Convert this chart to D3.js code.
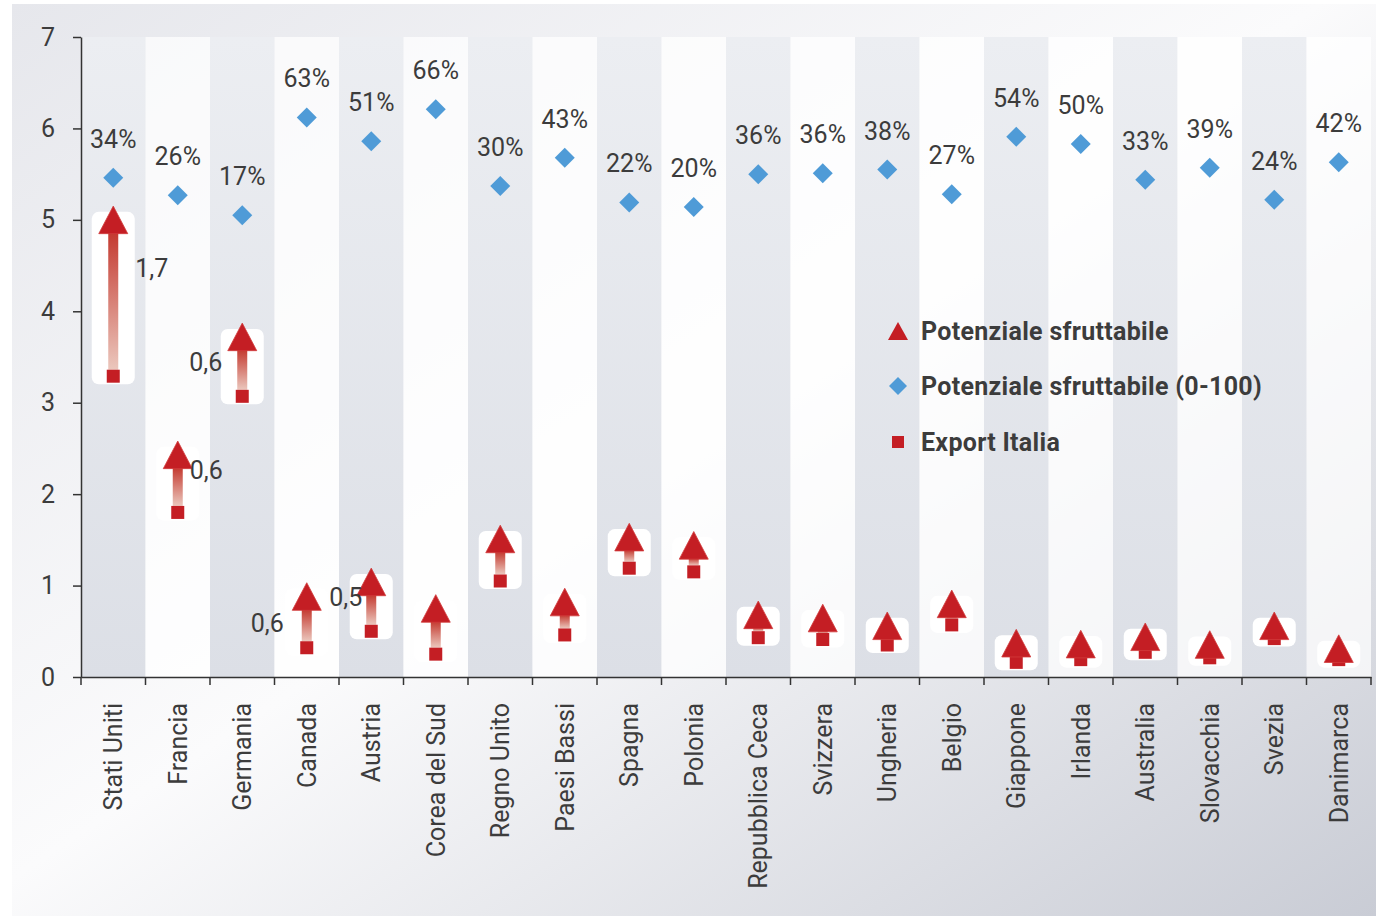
<!DOCTYPE html>
<html>
<head>
<meta charset="utf-8">
<script src="https://cdn.jsdelivr.net/npm/d3@7"></script>
<style>
  body { margin: 0; background: #ffffff; }
  svg { display: block; }
  text { font-family: Roboto, "Noto Sans", "Liberation Sans", sans-serif; }
</style>
</head>
<body>
<svg id="chart" width="1376" height="916"></svg>
<script>
// ---------------- DATA ----------------
const countries = ["Stati Uniti", "Francia", "Germania", "Canada", "Austria", "Corea del Sud",
  "Regno Unito", "Paesi Bassi", "Spagna", "Polonia", "Repubblica Ceca", "Svizzera", "Ungheria",
  "Belgio", "Giappone", "Irlanda", "Australia", "Slovacchia", "Svezia", "Danimarca"];

// Export Italia (squares)
const exportItalia = [3.29, 1.80, 3.07, 0.32, 0.50, 0.25, 1.05, 0.46, 1.19, 1.15,
  0.43, 0.41, 0.35, 0.57, 0.16, 0.19, 0.27, 0.21, 0.42, 0.19];

// Potenziale sfruttabile (triangles)
const potenziale = [5.00, 2.43, 3.72, 0.88, 1.04, 0.75, 1.51, 0.82, 1.53, 1.44,
  0.68, 0.645, 0.56, 0.80, 0.37, 0.36, 0.44, 0.355, 0.56, 0.31];

// Potenziale sfruttabile (0-100) (diamonds, plotted on the same axis)
const potenziale100 = [5.46, 5.27, 5.05, 6.12, 5.86, 6.21, 5.37, 5.68, 5.19, 5.14,
  5.50, 5.51, 5.55, 5.28, 5.91, 5.83, 5.44, 5.57, 5.22, 5.63];

// Percentage labels above diamonds
const percentLabels = [34, 26, 17, 63, 51, 66, 30, 43, 22, 20, 36, 36, 38, 27, 54, 50, 33, 39, 24, 42];

// Gap annotations
const gapCountries = ["Stati Uniti", "Francia", "Germania", "Canada", "Austria"];
const gapLabels = ["1,7", "0,6", "0,6", "0,6", "0,5"];

const yTicks = [0, 1, 2, 3, 4, 5, 6, 7];
const legendLabels = ["Potenziale sfruttabile", "Potenziale sfruttabile (0-100)", "Export Italia"];

// ---------------- CHART ----------------
const W = 1376, H = 916;
const svg = d3.select("#chart");

const x = d3.scaleBand().domain(countries).range([81, 1371]).padding(0);
const y = d3.scaleLinear().domain([0, 7]).range([677, 37]);
const cx = d => x(d) + x.bandwidth() / 2;

const RED = "#c41e24";
const BLUE = "#4f9bd7";
const TXT = "#3c3c3c";

const defs = svg.append("defs");
const bg = defs.append("linearGradient").attr("id", "bgGrad")
  .attr("x1", 0).attr("y1", 0).attr("x2", 1).attr("y2", 1);
bg.append("stop").attr("offset", "0%").attr("stop-color", "#e6e7ec");
bg.append("stop").attr("offset", "48%").attr("stop-color", "#fbfbfc");
bg.append("stop").attr("offset", "100%").attr("stop-color", "#c9ccd5");

const gb = defs.append("linearGradient").attr("id", "grayBand")
  .attr("x1", 0).attr("y1", 0).attr("x2", 0).attr("y2", 1);
gb.append("stop").attr("offset", "0%").attr("stop-color", "#eceef2");
gb.append("stop").attr("offset", "100%").attr("stop-color", "#dcdfe6");

const sg = defs.append("linearGradient").attr("id", "shaft")
  .attr("x1", 0).attr("y1", 0).attr("x2", 0).attr("y2", 1);
sg.append("stop").attr("offset", "0%").attr("stop-color", "#c43a30");
sg.append("stop").attr("offset", "100%").attr("stop-color", "#ebc7bd");

// background panel
svg.append("rect").attr("x", 12).attr("y", 4).attr("width", W - 12).attr("height", H - 4)
  .attr("fill", "url(#bgGrad)");

// alternating bands
svg.append("g").selectAll("rect").data(countries).join("rect")
  .attr("x", d => x(d)).attr("y", y(7))
  .attr("width", x.bandwidth()).attr("height", y(0) - y(7))
  .attr("fill", (d, i) => i % 2 === 0 ? "url(#grayBand)" : "rgba(255,255,255,0.72)");

// axes
const yAxis = svg.append("g").attr("transform", `translate(${x.range()[0]},0)`)
  .call(d3.axisLeft(y).tickValues(yTicks).tickFormat(d3.format("d"))
    .tickSize(8).tickSizeOuter(0).tickPadding(18));
yAxis.select(".domain").attr("stroke", "#333").attr("stroke-width", 1.5);
yAxis.selectAll(".tick line").attr("stroke", "#333").attr("stroke-width", 1.5);
yAxis.selectAll(".tick text").attr("fill", TXT).style("font-size", "25px");

const xAxis = svg.append("g").attr("transform", `translate(0,${y(0)})`)
  .call(d3.axisBottom(x).tickSize(0).tickSizeOuter(0));
xAxis.select(".domain").attr("stroke", "#333").attr("stroke-width", 1.5);
xAxis.selectAll(".tick text")
  .attr("transform", "rotate(-90)")
  .attr("x", -26).attr("y", 0).attr("dy", "0.36em")
  .attr("text-anchor", "end")
  .attr("fill", TXT).style("font-size", "25px");

const bounds = countries.map(d => x(d)).concat([x.range()[1]]);
svg.append("g").selectAll("line").data(bounds).join("line")
  .attr("x1", d => d).attr("x2", d => d)
  .attr("y1", y(0)).attr("y2", y(0) + 8)
  .attr("stroke", "#333").attr("stroke-width", 1.5);

// white rounded boxes behind arrows
svg.append("g").selectAll("rect").data(countries).join("rect")
  .attr("x", d => cx(d) - 21.5)
  .attr("y", (d, i) => y(potenziale[i]) - 8)
  .attr("width", 43)
  .attr("height", (d, i) => (y(exportItalia[i]) + 8) - (y(potenziale[i]) - 8))
  .attr("rx", 7).attr("fill", "#ffffff");

// shafts
svg.append("g").selectAll("rect")
  .data(countries.filter((d, i) => (y(exportItalia[i]) - 6.5) - (y(potenziale[i]) + 13) > 0))
  .join("rect")
  .attr("x", d => cx(d) - 5)
  .attr("y", d => y(potenziale[countries.indexOf(d)]) + 13)
  .attr("width", 10)
  .attr("height", d => {
    const i = countries.indexOf(d);
    return (y(exportItalia[i]) - 6.5) - (y(potenziale[i]) + 13);
  })
  .attr("fill", "url(#shaft)");

// squares (Export Italia)
svg.append("g").selectAll("rect").data(countries).join("rect")
  .attr("x", d => cx(d) - 6.5)
  .attr("y", (d, i) => y(exportItalia[i]) - 6.5)
  .attr("width", 13).attr("height", 13)
  .attr("fill", RED);

// triangles (Potenziale sfruttabile)
const triPath = (hw, hh) => `M0,${-hh}L${hw},${hh}L${-hw},${hh}Z`;
svg.append("g").selectAll("path").data(countries).join("path")
  .attr("d", triPath(14.5, 13.8))
  .attr("transform", (d, i) => `translate(${cx(d)},${y(potenziale[i])})`)
  .attr("fill", RED).attr("stroke", "#d23c3c").attr("stroke-width", 0.8)
  .attr("stroke-linejoin", "round");

// diamonds
const diaPath = r => `M0,${-r}L${r},0L0,${r}L${-r},0Z`;
svg.append("g").selectAll("path").data(countries).join("path")
  .attr("d", diaPath(10))
  .attr("transform", (d, i) => `translate(${cx(d)},${y(potenziale100[i])})`)
  .attr("fill", BLUE);

// percentage labels
svg.append("g").selectAll("text").data(countries).join("text")
  .attr("x", d => cx(d))
  .attr("y", (d, i) => y(potenziale100[i]) - 30)
  .attr("text-anchor", "middle")
  .attr("fill", TXT).style("font-size", "25px")
  .text((d, i) => percentLabels[i] + "%");

// gap labels (placement relative to triangle)
const gapPlacement = {
  "Stati Uniti": { dx: 22, dy: 57, anchor: "start" },
  "Francia": { dx: 12, dy: 24, anchor: "start" },
  "Germania": { dx: -20, dy: 34, anchor: "end" },
  "Canada": { dx: -23, dy: 35, anchor: "end" },
  "Austria": { dx: -9, dy: 24, anchor: "end" }
};
svg.append("g").selectAll("text").data(gapCountries).join("text")
  .attr("x", d => cx(d) + gapPlacement[d].dx)
  .attr("y", d => y(potenziale[countries.indexOf(d)]) + gapPlacement[d].dy)
  .attr("text-anchor", d => gapPlacement[d].anchor)
  .attr("fill", TXT).style("font-size", "25px")
  .text((d, i) => gapLabels[i]);

// legend
const legend = svg.append("g").attr("transform", "translate(898,331)");
const rowGap = [0, 55, 111];
const lg = legend.selectAll("g").data(legendLabels).join("g")
  .attr("transform", (d, i) => `translate(0,${rowGap[i]})`);
lg.each(function (d, i) {
  const g = d3.select(this);
  if (i === 0) g.append("path").attr("d", triPath(10, 9)).attr("fill", RED);
  else if (i === 1) g.append("path").attr("d", diaPath(9)).attr("fill", BLUE);
  else g.append("rect").attr("x", -6).attr("y", -6).attr("width", 12).attr("height", 12).attr("fill", RED);
});
lg.append("text")
  .attr("x", 23).attr("y", 8.5)
  .attr("fill", TXT)
  .style("font-size", "25px").style("font-weight", "bold").style("letter-spacing", "0.3px")
  .text(d => d);
</script>
</body>
</html>
